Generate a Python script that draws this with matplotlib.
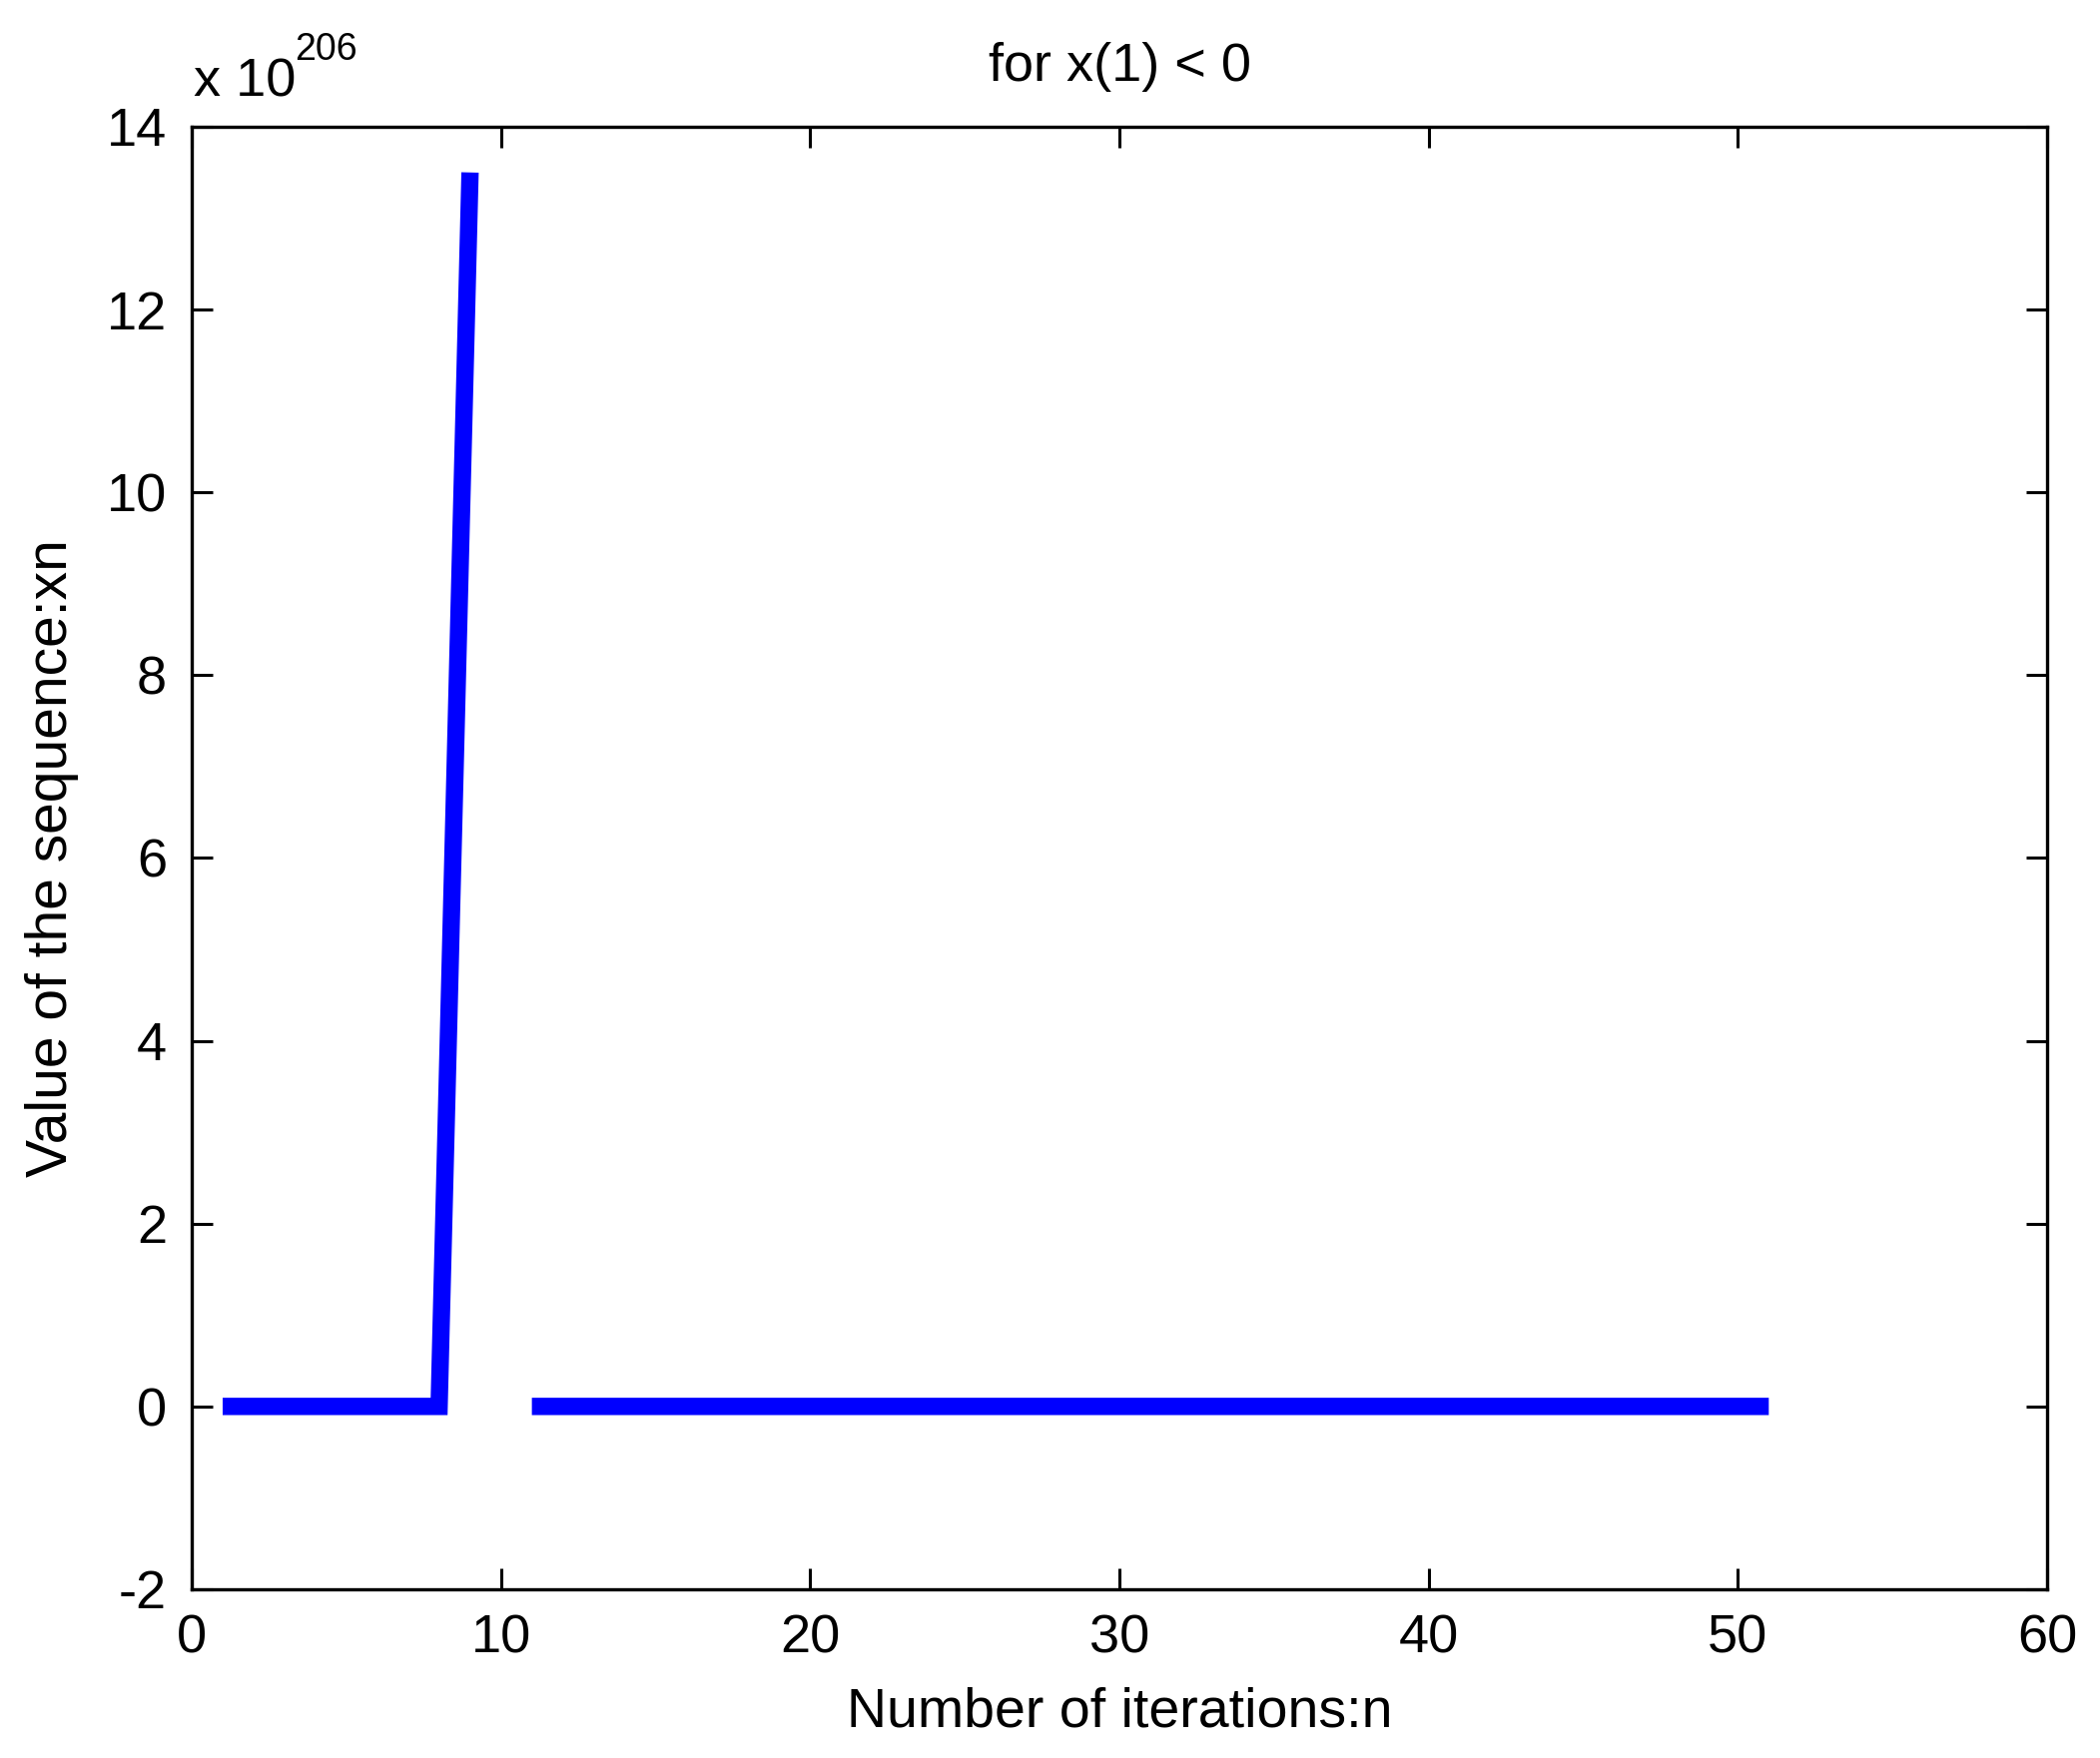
import matplotlib
matplotlib.use("Agg")
import matplotlib.pyplot as plt
import numpy as np

plt.rcParams["font.family"] = ["Liberation Sans", "DejaVu Sans"]
plt.rcParams["axes.unicode_minus"] = False

# sequence values, in units of 1e206 (NaN = overflow, not drawn)
iterations = list(range(1, 52))
values = [
    0, 0, 0, 0, 0, 0, 0, 0, 13.5, np.nan,
    0, 0, 0, 0, 0, 0, 0, 0, 0, 0,
    0, 0, 0, 0, 0, 0, 0, 0, 0, 0,
    0, 0, 0, 0, 0, 0, 0, 0, 0, 0,
    0, 0, 0, 0, 0, 0, 0, 0, 0, 0,
    0,
]
scale_exp = 206
x_ticks = [0, 10, 20, 30, 40, 50, 60]
y_ticks = [-2, 0, 2, 4, 6, 8, 10, 12, 14]

fig = plt.figure(figsize=(21.03, 17.61), dpi=100)
ax = fig.add_axes([0.0913, 0.096, 0.8835, 0.8319])

ax.plot(iterations, values, color="#0000ff", linewidth=12.5,
        solid_capstyle="butt", solid_joinstyle="miter")

ax.set_xlim(0, 60)
ax.set_ylim(-2, 14)
ax.set_xticks(x_ticks)
ax.set_yticks(y_ticks)
ax.tick_params(direction="in", length=15, width=2.2, labelsize=39, pad=18,
               top=True, right=True)
for side in ax.spines.values():
    side.set_linewidth(2.4)

ax.set_title("for x(1) < 0", fontsize=39, pad=33)
ax.set_xlabel("Number of iterations:n", fontsize=40, labelpad=16)
ax.set_ylabel("Value of the sequence:xn", fontsize=41, labelpad=20)

# MATLAB-style exponent label above the y axis
ax.text(0.001, 1.021, "x 10", transform=ax.transAxes, fontsize=39,
        ha="left", va="baseline")
ax.text(0.0554, 1.046, str(scale_exp), transform=ax.transAxes, fontsize=27,
        ha="left", va="baseline")

fig.savefig("out.png", dpi=100)
